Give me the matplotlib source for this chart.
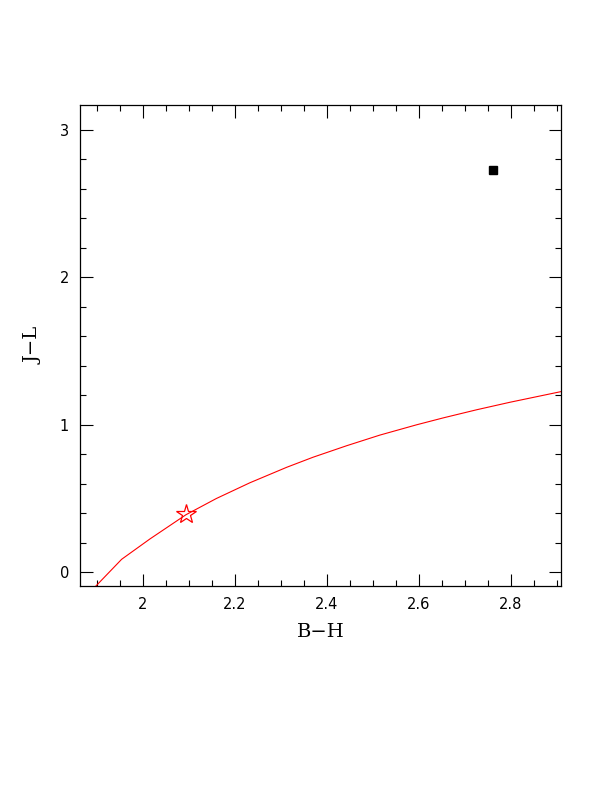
import numpy as np
import matplotlib
matplotlib.use("Agg")
import matplotlib.pyplot as plt
from matplotlib.ticker import MultipleLocator

# model track (B-H, J-L)
track_bh = [1.8986, 1.9544, 2.0159, 2.094, 2.160, 2.233, 2.313, 2.370,
            2.443, 2.515, 2.595, 2.653, 2.7255, 2.798, 2.9086]
track_jl = [-0.093, 0.088, 0.226, 0.390, 0.500, 0.607, 0.712, 0.780,
            0.858, 0.930, 1.000, 1.047, 1.102, 1.153, 1.225]

# marked points
star_bh, star_jl = [2.094], [0.396]
obs_bh, obs_jl = [2.7615], [2.7246]

fig = plt.figure(figsize=(6.12, 7.92), dpi=100)
ax = fig.add_axes([0.1307, 0.2601, 0.7860, 0.6069])

ax.plot(track_bh, track_jl, color='red', lw=0.8)
ax.plot(star_bh, star_jl, marker='*', ms=15, mfc='none', mec='red', mew=0.9, ls='none')
ax.plot(obs_bh, obs_jl, marker='s', ms=5.5, color='black', ls='none')

ax.set_xlim(1.864, 2.9086)
ax.set_ylim(-0.093, 3.166)

ax.xaxis.set_major_locator(MultipleLocator(0.2))
ax.xaxis.set_minor_locator(MultipleLocator(0.05))
ax.yaxis.set_major_locator(MultipleLocator(1))
ax.yaxis.set_minor_locator(MultipleLocator(0.2))
ax.xaxis.set_major_formatter(plt.FuncFormatter(lambda v, p: '%g' % round(v, 2)))
ax.yaxis.set_major_formatter(plt.FuncFormatter(lambda v, p: '%g' % round(v, 2)))

ax.tick_params(which='both', direction='in', top=True, right=True, width=0.8,
               labelsize=10.5, pad=8)
ax.tick_params(which='major', length=9)
ax.tick_params(which='minor', length=4.5)
for lab in ax.get_xticklabels() + ax.get_yticklabels():
    lab.set_family('DejaVu Sans')
for s in ax.spines.values():
    s.set_linewidth(0.9)

ax.set_xlabel('B\u2212H', family='DejaVu Serif', fontsize=14, labelpad=8)
ax.set_ylabel('J\u2212L', family='DejaVu Serif', fontsize=14, labelpad=12)

fig.savefig('out.png', dpi=100)
